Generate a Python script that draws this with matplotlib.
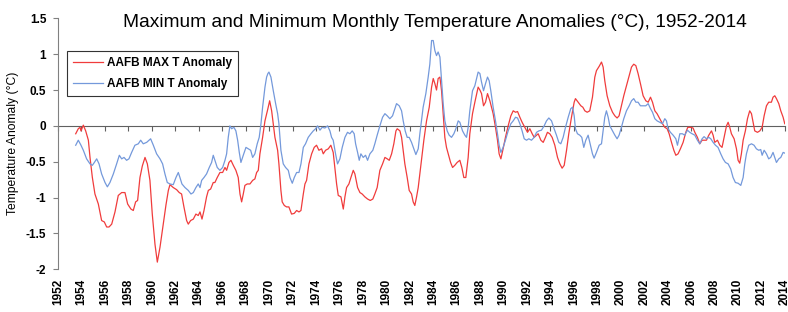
import matplotlib
matplotlib.use("Agg")
import matplotlib.pyplot as plt
from matplotlib.ticker import FuncFormatter

plt.rcParams['font.family'] = ['Liberation Sans', 'DejaVu Sans']
plt.rcParams['axes.unicode_minus'] = False

# AAFB MAX T anomaly (decimal year, degC)
max_years = [
    1953.51, 1953.73, 1953.88, 1953.96, 1954.16, 1954.36, 1954.59, 1954.73, 1954.93, 1955.15,
    1955.44, 1955.72, 1955.95, 1956.15, 1956.35, 1956.58, 1956.86, 1957.14, 1957.43, 1957.71,
    1957.94, 1958.22, 1958.42, 1958.62, 1958.79, 1958.99, 1959.19, 1959.42, 1959.62, 1959.84,
    1960.04, 1960.27, 1960.47, 1960.70, 1960.95, 1961.21, 1961.41, 1961.55, 1961.83, 1962.12,
    1962.34, 1962.54, 1962.74, 1962.97, 1963.11, 1963.31, 1963.54, 1963.76, 1963.96, 1964.11,
    1964.28, 1964.45, 1964.67, 1964.82, 1965.02, 1965.24, 1965.38, 1965.58, 1965.81, 1966.04,
    1966.24, 1966.38, 1966.58, 1966.75, 1966.95, 1967.17, 1967.37, 1967.52, 1967.66, 1967.80,
    1967.94, 1968.14, 1968.37, 1968.60, 1968.79, 1968.94, 1969.08, 1969.22, 1969.45, 1969.65,
    1969.90, 1970.05, 1970.22, 1970.36, 1970.50, 1970.73, 1970.84, 1971.01, 1971.12, 1971.30,
    1971.49, 1971.69, 1971.92, 1972.15, 1972.35, 1972.55, 1972.72, 1972.92, 1973.06, 1973.20,
    1973.40, 1973.63, 1973.85, 1974.05, 1974.25, 1974.48, 1974.62, 1974.82, 1975.05, 1975.27,
    1975.47, 1975.61, 1975.76, 1975.90, 1976.13, 1976.33, 1976.47, 1976.61, 1976.81, 1976.98,
    1977.18, 1977.32, 1977.55, 1977.75, 1977.94, 1978.17, 1978.40, 1978.63, 1978.85, 1979.02,
    1979.22, 1979.45, 1979.68, 1979.88, 1980.08, 1980.25, 1980.45, 1980.64, 1980.82, 1980.93,
    1981.16, 1981.30, 1981.44, 1981.58, 1981.78, 1981.95, 1982.15, 1982.29, 1982.43, 1982.58,
    1982.72, 1982.86, 1983.00, 1983.20, 1983.43, 1983.66, 1983.86, 1984.00, 1984.14, 1984.28,
    1984.42, 1984.57, 1984.71, 1984.85, 1984.99, 1985.13, 1985.28, 1985.48, 1985.65, 1985.84,
    1986.04, 1986.27, 1986.44, 1986.61, 1986.78, 1986.98, 1987.12, 1987.35, 1987.55, 1987.83,
    1987.98, 1988.12, 1988.29, 1988.46, 1988.63, 1988.83, 1988.97, 1989.11, 1989.31, 1989.48,
    1989.62, 1989.77, 1989.96, 1990.16, 1990.39, 1990.62, 1990.82, 1991.02, 1991.19, 1991.39,
    1991.58, 1991.81, 1992.04, 1992.24, 1992.44, 1992.61, 1992.81, 1992.95, 1993.18, 1993.38,
    1993.57, 1993.74, 1993.94, 1994.14, 1994.37, 1994.60, 1994.80, 1994.99, 1995.17, 1995.37,
    1995.56, 1995.79, 1996.02, 1996.13, 1996.36, 1996.59, 1996.76, 1996.93, 1997.13, 1997.35,
    1997.58, 1997.78, 1997.92, 1998.15, 1998.35, 1998.49, 1998.63, 1998.83, 1999.06, 1999.29,
    1999.49, 1999.68, 1999.85, 2000.05, 2000.25, 2000.48, 2000.71, 2000.91, 2001.10, 2001.28,
    2001.47, 2001.67, 2001.90, 2002.13, 2002.33, 2002.53, 2002.70, 2002.90, 2003.09, 2003.32,
    2003.55, 2003.75, 2003.95, 2004.12, 2004.32, 2004.52, 2004.69, 2004.88, 2005.08, 2005.31,
    2005.54, 2005.71, 2005.96, 2006.16, 2006.31, 2006.53, 2006.73, 2006.93, 2007.10, 2007.30,
    2007.50, 2007.73, 2007.87, 2008.01, 2008.24, 2008.44, 2008.63, 2008.81, 2009.01, 2009.15,
    2009.29, 2009.43, 2009.66, 2009.86, 2010.00, 2010.14, 2010.28, 2010.43, 2010.62, 2010.80,
    2010.99, 2011.14, 2011.28, 2011.42, 2011.65, 2011.85, 2012.05, 2012.22, 2012.42, 2012.61,
    2012.84, 2012.98, 2013.13, 2013.27, 2013.47, 2013.64, 2013.84, 2013.98,
]
max_anom = [
    -0.11, -0.04, -0.02, -0.07, 0.01, -0.07, -0.20, -0.44, -0.72, -0.95,
    -1.09, -1.32, -1.34, -1.41, -1.41, -1.37, -1.20, -0.97, -0.93, -0.93,
    -1.09, -1.16, -1.18, -1.06, -1.04, -0.72, -0.56, -0.44, -0.53, -0.76,
    -1.23, -1.65, -1.90, -1.69, -1.40, -1.10, -0.90, -0.82, -0.86, -0.89,
    -0.93, -0.95, -1.13, -1.32, -1.37, -1.32, -1.30, -1.23, -1.25, -1.20,
    -1.30, -1.18, -0.99, -0.90, -0.88, -0.79, -0.79, -0.72, -0.65, -0.65,
    -0.58, -0.62, -0.51, -0.48, -0.55, -0.62, -0.72, -0.95, -1.06, -0.95,
    -0.83, -0.81, -0.81, -0.76, -0.74, -0.65, -0.62, -0.39, -0.16, 0.07,
    0.24, 0.35, 0.21, 0.03, -0.16, -0.34, -0.53, -0.90, -1.06, -1.11,
    -1.13, -1.13, -1.23, -1.22, -1.18, -1.20, -1.18, -0.95, -0.81, -0.76,
    -0.53, -0.39, -0.30, -0.27, -0.34, -0.32, -0.39, -0.34, -0.32, -0.27,
    -0.37, -0.58, -0.81, -0.97, -0.99, -1.16, -0.99, -0.86, -0.81, -0.72,
    -0.62, -0.67, -0.86, -0.93, -0.95, -0.99, -1.02, -1.04, -1.02, -0.95,
    -0.86, -0.62, -0.53, -0.44, -0.46, -0.48, -0.39, -0.25, -0.07, -0.04,
    -0.07, -0.16, -0.34, -0.53, -0.72, -0.90, -0.95, -1.06, -1.11, -0.99,
    -0.86, -0.67, -0.48, -0.20, 0.07, 0.26, 0.54, 0.66, 0.59, 0.50,
    0.66, 0.68, 0.49, 0.17, -0.16, -0.30, -0.39, -0.51, -0.58, -0.55,
    -0.51, -0.48, -0.58, -0.72, -0.72, -0.44, -0.11, 0.17, 0.33, 0.54,
    0.50, 0.45, 0.28, 0.33, 0.45, 0.35, 0.26, 0.17, -0.02, -0.20,
    -0.39, -0.46, -0.32, -0.16, 0.00, 0.14, 0.21, 0.19, 0.20, 0.12,
    0.05, -0.02, -0.09, -0.04, -0.11, -0.16, -0.13, -0.11, -0.20, -0.23,
    -0.16, -0.09, -0.11, -0.16, -0.27, -0.44, -0.53, -0.59, -0.55, -0.34,
    -0.11, 0.12, 0.33, 0.38, 0.33, 0.28, 0.26, 0.21, 0.19, 0.21,
    0.40, 0.68, 0.77, 0.83, 0.89, 0.82, 0.63, 0.42, 0.28, 0.19,
    0.14, 0.11, 0.14, 0.28, 0.42, 0.56, 0.70, 0.82, 0.86, 0.84,
    0.73, 0.59, 0.42, 0.35, 0.33, 0.40, 0.33, 0.21, 0.17, 0.10,
    0.03, -0.02, -0.04, -0.11, -0.23, -0.34, -0.41, -0.39, -0.32, -0.23,
    -0.09, -0.02, -0.02, -0.03, -0.09, -0.16, -0.25, -0.20, -0.20, -0.20,
    -0.13, -0.07, -0.13, -0.23, -0.20, -0.27, -0.30, -0.16, 0.00, 0.05,
    -0.02, -0.11, -0.18, -0.32, -0.48, -0.52, -0.39, -0.20, -0.07, 0.10,
    0.21, 0.17, 0.05, -0.07, -0.09, -0.07, -0.02, 0.14, 0.28, 0.33,
    0.33, 0.40, 0.42, 0.38, 0.31, 0.21, 0.12, 0.03,
]

# AAFB MIN T anomaly (decimal year, degC)
min_years = [
    1953.51, 1953.73, 1953.96, 1954.16, 1954.44, 1954.73, 1954.93, 1955.10, 1955.30, 1955.50,
    1955.72, 1956.01, 1956.21, 1956.43, 1956.72, 1957.00, 1957.23, 1957.43, 1957.63, 1957.85,
    1958.05, 1958.28, 1958.56, 1958.85, 1959.05, 1959.27, 1959.56, 1959.90, 1960.13, 1960.41,
    1960.70, 1960.92, 1961.12, 1961.32, 1961.55, 1961.83, 1962.06, 1962.26, 1962.40, 1962.57,
    1962.83, 1963.11, 1963.34, 1963.54, 1963.76, 1963.96, 1964.11, 1964.25, 1964.45, 1964.67,
    1964.90, 1965.10, 1965.24, 1965.38, 1965.58, 1965.81, 1966.04, 1966.24, 1966.38, 1966.52,
    1966.66, 1966.81, 1967.00, 1967.17, 1967.32, 1967.46, 1967.60, 1967.80, 1968.03, 1968.23,
    1968.43, 1968.60, 1968.79, 1968.99, 1969.16, 1969.31, 1969.45, 1969.65, 1969.79, 1969.90,
    1969.99, 1970.16, 1970.36, 1970.56, 1970.73, 1970.84, 1971.01, 1971.21, 1971.41, 1971.64,
    1971.78, 1971.98, 1972.15, 1972.35, 1972.55, 1972.72, 1972.92, 1973.11, 1973.34, 1973.57,
    1973.77, 1973.97, 1974.14, 1974.34, 1974.53, 1974.76, 1974.99, 1975.19, 1975.33, 1975.47,
    1975.67, 1975.84, 1976.04, 1976.24, 1976.47, 1976.69, 1976.89, 1977.09, 1977.26, 1977.38,
    1977.55, 1977.69, 1977.83, 1978.03, 1978.23, 1978.40, 1978.60, 1978.85, 1979.02, 1979.22,
    1979.45, 1979.68, 1979.88, 1980.08, 1980.30, 1980.53, 1980.73, 1980.87, 1981.10, 1981.30,
    1981.44, 1981.61, 1981.78, 1981.95, 1982.15, 1982.35, 1982.52, 1982.72, 1982.86, 1983.00,
    1983.14, 1983.37, 1983.57, 1983.71, 1983.86, 1984.00, 1984.14, 1984.28, 1984.42, 1984.57,
    1984.71, 1984.85, 1984.99, 1985.19, 1985.36, 1985.56, 1985.76, 1985.93, 1986.13, 1986.27,
    1986.50, 1986.70, 1986.84, 1986.98, 1987.12, 1987.35, 1987.55, 1987.83, 1987.98, 1988.12,
    1988.29, 1988.46, 1988.63, 1988.77, 1988.91, 1989.11, 1989.31, 1989.48, 1989.62, 1989.77,
    1989.96, 1990.16, 1990.39, 1990.62, 1990.82, 1991.02, 1991.19, 1991.39, 1991.58, 1991.76,
    1991.96, 1992.15, 1992.38, 1992.61, 1992.81, 1993.01, 1993.23, 1993.46, 1993.66, 1993.86,
    1994.09, 1994.31, 1994.51, 1994.71, 1994.88, 1995.08, 1995.28, 1995.51, 1995.73, 1995.88,
    1996.02, 1996.13, 1996.30, 1996.50, 1996.67, 1996.84, 1997.01, 1997.21, 1997.41, 1997.58,
    1997.72, 1997.92, 1998.15, 1998.35, 1998.49, 1998.63, 1998.77, 1998.92, 1999.06, 1999.29,
    1999.49, 1999.68, 1999.85, 2000.05, 2000.25, 2000.48, 2000.71, 2000.91, 2001.10, 2001.28,
    2001.47, 2001.67, 2001.90, 2002.13, 2002.33, 2002.53, 2002.70, 2002.90, 2003.09, 2003.32,
    2003.55, 2003.75, 2003.89, 2004.03, 2004.23, 2004.46, 2004.69, 2004.83, 2005.03, 2005.25,
    2005.45, 2005.68, 2005.88, 2006.08, 2006.31, 2006.53, 2006.73, 2006.93, 2007.10, 2007.30,
    2007.50, 2007.67, 2007.87, 2008.07, 2008.29, 2008.52, 2008.72, 2008.92, 2009.15, 2009.37,
    2009.57, 2009.77, 2010.00, 2010.23, 2010.43, 2010.57, 2010.71, 2010.91, 2011.14, 2011.36,
    2011.56, 2011.76, 2011.93, 2012.05, 2012.22, 2012.42, 2012.61, 2012.78, 2012.98, 2013.13,
    2013.27, 2013.47, 2013.64, 2013.84, 2013.98,
]
min_anom = [
    -0.27, -0.20, -0.27, -0.34, -0.46, -0.53, -0.55, -0.51, -0.46, -0.53,
    -0.67, -0.79, -0.85, -0.79, -0.67, -0.53, -0.41, -0.46, -0.44, -0.48,
    -0.46, -0.37, -0.27, -0.25, -0.20, -0.25, -0.23, -0.18, -0.27, -0.39,
    -0.46, -0.53, -0.67, -0.79, -0.81, -0.82, -0.72, -0.65, -0.72, -0.81,
    -0.86, -0.90, -0.95, -0.93, -0.86, -0.81, -0.86, -0.76, -0.72, -0.67,
    -0.58, -0.51, -0.41, -0.48, -0.58, -0.62, -0.58, -0.48, -0.39, -0.16,
    0.00, -0.04, -0.02, -0.07, -0.20, -0.37, -0.51, -0.41, -0.30, -0.32,
    -0.34, -0.44, -0.39, -0.25, -0.16, 0.03, 0.26, 0.54, 0.68, 0.73,
    0.75, 0.68, 0.49, 0.31, 0.17, 0.03, -0.34, -0.53, -0.58, -0.62,
    -0.72, -0.80, -0.72, -0.65, -0.65, -0.53, -0.30, -0.25, -0.16, -0.11,
    -0.07, -0.04, 0.00, -0.06, -0.02, -0.03, 0.00, -0.07, -0.16, -0.20,
    -0.39, -0.53, -0.46, -0.30, -0.16, -0.09, -0.11, -0.07, -0.11, -0.25,
    -0.37, -0.48, -0.39, -0.44, -0.41, -0.48, -0.39, -0.34, -0.25, -0.13,
    0.00, 0.12, 0.17, 0.14, 0.10, 0.14, 0.24, 0.31, 0.28, 0.21,
    0.07, -0.07, -0.16, -0.16, -0.23, -0.32, -0.40, -0.32, -0.11, 0.07,
    0.26, 0.45, 0.68, 0.86, 1.19, 1.19, 1.05, 0.98, 1.03, 0.96,
    0.63, 0.31, 0.07, -0.07, -0.13, -0.16, -0.11, -0.04, 0.07, 0.05,
    -0.07, -0.13, -0.16, -0.02, 0.21, 0.49, 0.56, 0.75, 0.73, 0.61,
    0.49, 0.59, 0.68, 0.63, 0.49, 0.26, 0.07, -0.11, -0.27, -0.37,
    -0.30, -0.20, -0.07, 0.03, 0.07, 0.12, 0.11, 0.03, -0.07, -0.18,
    -0.20, -0.18, -0.20, -0.16, -0.09, -0.07, -0.06, 0.00, 0.07, 0.11,
    0.07, -0.04, -0.13, -0.23, -0.25, -0.16, -0.02, 0.12, 0.24, 0.26,
    0.14, -0.04, -0.11, -0.13, -0.16, -0.30, -0.20, -0.13, -0.27, -0.39,
    -0.45, -0.37, -0.27, -0.25, -0.07, 0.12, 0.21, 0.12, 0.00, -0.07,
    -0.13, -0.18, -0.13, -0.02, 0.10, 0.21, 0.28, 0.35, 0.38, 0.33,
    0.33, 0.28, 0.28, 0.28, 0.31, 0.24, 0.19, 0.10, 0.07, 0.05,
    0.03, 0.10, 0.07, -0.04, -0.09, -0.13, -0.18, -0.27, -0.11, -0.11,
    -0.13, -0.06, -0.09, -0.11, -0.13, -0.20, -0.25, -0.18, -0.15, -0.18,
    -0.16, -0.18, -0.23, -0.27, -0.30, -0.39, -0.46, -0.51, -0.53, -0.60,
    -0.72, -0.79, -0.80, -0.83, -0.72, -0.53, -0.39, -0.27, -0.25, -0.27,
    -0.32, -0.34, -0.33, -0.41, -0.34, -0.39, -0.46, -0.44, -0.37, -0.44,
    -0.51, -0.46, -0.44, -0.37, -0.38,
]

year_ticks = list(range(1952, 2015, 2))
y_ticks = [1.5, 1, 0.5, 0, -0.5, -1, -1.5, -2]

fig = plt.figure(figsize=(7.88, 3.12), dpi=100)
ax = fig.add_axes([58 / 788, 1 - 269.3 / 312, 727 / 788, 251 / 312])

ax.plot(max_years, max_anom, color='#f03c3c', lw=0.9, label='AAFB MAX T Anomaly')
ax.plot(min_years, min_anom, color='#7499db', lw=0.9, label='AAFB MIN T Anomaly')

ax.set_xlim(1952, 2014)
ax.set_ylim(-2, 1.5)

# zero line carries the year tick marks, labels sit below the plot
ax.spines['top'].set_visible(False)
ax.spines['right'].set_visible(False)
ax.spines['bottom'].set_position(('data', 0))
ax.spines['bottom'].set_color('#606060')
ax.spines['bottom'].set_zorder(1)
ax.spines['left'].set_color('#808080')
ax.set_xticks(year_ticks)
ax.tick_params(axis='x', direction='out', length=3.4, width=0.8, color='#606060',
               labelbottom=False)
ax.set_yticks(y_ticks)
ax.yaxis.set_major_formatter(FuncFormatter(lambda v, p: '{:g}'.format(v)))
ax.tick_params(axis='y', direction='out', length=3.4, width=0.8, color='#808080',
               pad=5, labelsize=8.5)
for t in ax.get_yticklabels():
    t.set_fontweight('bold')

sec = ax.secondary_xaxis(0.0)
sec.set_xticks(year_ticks)
sec.spines['bottom'].set_visible(False)
sec.tick_params(axis='x', length=0, pad=7, labelsize=8.5, labelrotation=90)
for t in sec.get_xticklabels():
    t.set_fontweight('bold')

ax.set_ylabel('Temperature Anomaly (\u00b0C)', fontsize=8.7, labelpad=5)

fig.text(435 / 788, 1 - 26.7 / 312,
         'Maximum and Minimum Monthly Temperature Anomalies (\u00b0C), 1952-2014',
         ha='center', va='baseline', fontsize=13.8)

leg = ax.legend(loc='upper left', bbox_to_anchor=((66.7 - 58) / 727, (269.3 - 51) / 251),
                fancybox=False, framealpha=1, edgecolor='#333333',
                prop={'weight': 'bold', 'size': 8.5}, handlelength=2.6,
                handletextpad=0.3, borderpad=0.5, labelspacing=0.75, borderaxespad=0)
leg.get_frame().set_linewidth(0.8)

fig.savefig('out.png', dpi=100)
